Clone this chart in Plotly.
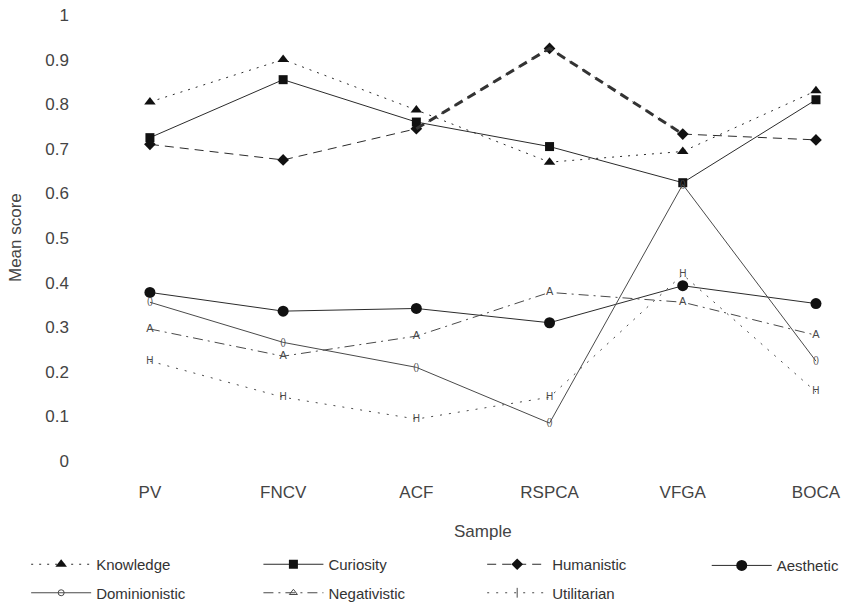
import plotly.graph_objects as go

# Sample groups along the x axis
samples = ["PV", "FNCV", "ACF", "RSPCA", "VFGA", "BOCA"]

# Mean attitude scores per sample
knowledge = [0.805, 0.900, 0.787, 0.670, 0.694, 0.830]
curiosity = [0.725, 0.855, 0.760, 0.705, 0.624, 0.810]
humanistic = [0.710, 0.675, 0.745, 0.925, 0.733, 0.720]
aesthetic = [0.378, 0.336, 0.342, 0.310, 0.393, 0.353]
dominionistic = [0.356, 0.266, 0.210, 0.085, 0.620, 0.224]
negativistic = [0.296, 0.235, 0.280, 0.378, 0.356, 0.282]
utilitarian = [0.224, 0.143, 0.094, 0.143, 0.418, 0.155]

y_ticks = [0, 0.1, 0.2, 0.3, 0.4, 0.5, 0.6, 0.7, 0.8, 0.9, 1]
y_tick_text = ["0", "0.1", "0.2", "0.3", "0.4", "0.5", "0.6", "0.7", "0.8", "0.9", "1"]

INK = "#2b2b2b"
SOFT = "#4a4a4a"
FONT = "Liberation Sans, Arial, sans-serif"

fig = go.Figure()


def marker_series(name, values, symbol, size, dash, legend):
    fig.add_trace(go.Scatter(
        x=samples, y=values, name=name, mode="lines+markers",
        line=dict(color=INK, width=1, dash=dash),
        marker=dict(symbol=symbol, size=size, color="#111111"),
        legend=legend, legendgroup=name,
    ))


def letter_series(name, values, letter, size, dash, legend, key_symbol, key_size):
    # letters mark the points on the chart
    fig.add_trace(go.Scatter(
        x=samples, y=values, name=name, mode="lines+text",
        text=[letter] * len(values), textposition="middle center",
        textfont=dict(size=size, color=SOFT, family=FONT),
        line=dict(color=SOFT, width=1, dash=dash),
        showlegend=False, legendgroup=name,
    ))
    # legend key for the same series
    fig.add_trace(go.Scatter(
        x=[None], y=[None], name=name, mode="lines+markers",
        line=dict(color=SOFT, width=1, dash=dash),
        marker=dict(symbol=key_symbol, size=key_size, color=SOFT,
                    line=dict(width=1, color=SOFT)),
        legend=legend, legendgroup=name,
    ))


marker_series("Knowledge", knowledge, "triangle-up", 10, "2px,6px", "legend")
marker_series("Curiosity", curiosity, "square", 9, "solid", "legend2")
marker_series("Humanistic", humanistic, "diamond", 9, "9px,6px", "legend3")
marker_series("Aesthetic", aesthetic, "circle", 11, "solid", "legend4")
letter_series("Dominionistic", dominionistic, "()", 9, "solid", "legend",
              "circle-open", 6)
letter_series("Negativistic", negativistic, "A", 11, "10px,5px,2px,5px", "legend2",
              "triangle-up-open", 7)
letter_series("Utilitarian", utilitarian, "H", 10, "2px,7px", "legend3",
              "line-ns-open", 7)

# heavier stroke on the Humanistic peak section (ACF - RSPCA - VFGA)
fig.add_trace(go.Scatter(
    x=samples[2:5], y=humanistic[2:5], mode="lines", showlegend=False,
    line=dict(color="#333333", width=3, dash="9px,6px"), hoverinfo="skip",
))

legend_style = dict(
    orientation="v", xanchor="left", yanchor="top", y=-0.195,
    font=dict(family=FONT, size=15, color="#333333"),
    bgcolor="rgba(0,0,0,0)", itemwidth=60, tracegroupgap=6,
)
col_x = [-0.07, 0.232, 0.523, 0.815]
fig.update_layout(
    legend=dict(x=col_x[0], **legend_style),
    legend2=dict(x=col_x[1], **legend_style),
    legend3=dict(x=col_x[2], **legend_style),
    legend4=dict(x=col_x[3], **legend_style),
)

fig.update_layout(
    width=849, height=609,
    margin=dict(l=80, r=0, t=15, b=147),
    paper_bgcolor="white", plot_bgcolor="white",
    font=dict(family=FONT, color="#444444"),
    xaxis=dict(
        type="category", range=[-0.525, 5.248],
        showgrid=False, zeroline=False, showline=False, ticks="",
        tickfont=dict(size=17, color="#444444"), ticklabelstandoff=19,
    ),
    yaxis=dict(
        range=[0, 1], tickvals=y_ticks, ticktext=y_tick_text,
        showgrid=False, zeroline=False, showline=False, ticks="",
        tickfont=dict(size=17, color="#444444"), ticklabelstandoff=10,
    ),
    annotations=[
        dict(text="Sample", xref="paper", yref="paper", x=0.524, y=-0.158,
             xanchor="center", yanchor="middle", showarrow=False,
             font=dict(size=17, color="#444444", family=FONT)),
        dict(text="Mean score", xref="paper", yref="paper", x=-0.0845, y=0.5,
             xanchor="center", yanchor="middle", showarrow=False, textangle=-90,
             font=dict(size=17, color="#444444", family=FONT)),
    ],
)

fig.write_html("out.html")
